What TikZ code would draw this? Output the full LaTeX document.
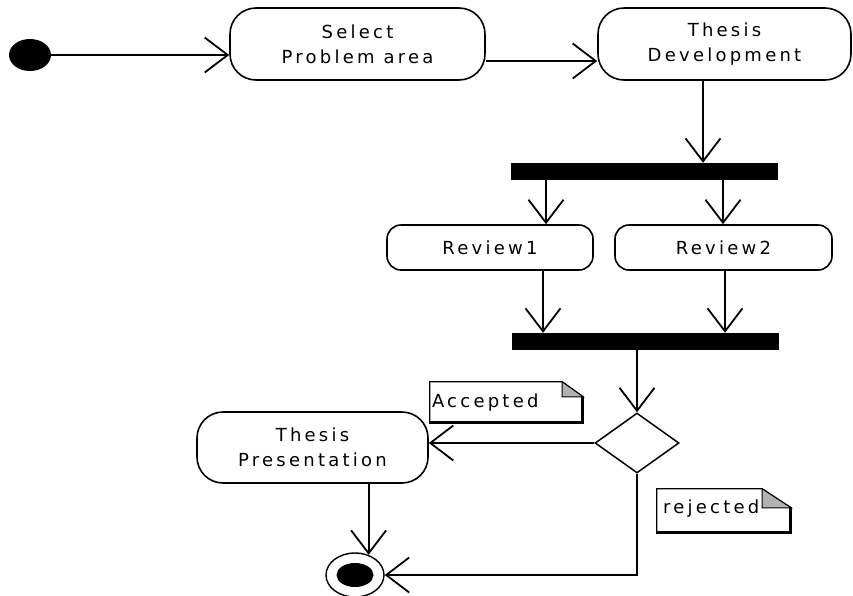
\documentclass[tikz,border=0pt]{standalone}
\usepackage{fontspec}
\setmainfont{DejaVu Sans}[LetterSpace=18]
\usetikzlibrary{arrows.meta,shapes.geometric,calc}

\begin{document}
\begin{tikzpicture}[x=1pt,y=-1pt,
  every node/.style={font=\fontsize{18}{25}\selectfont},
  act/.style={draw, line width=1.6pt, rectangle, rounded corners=26pt,
              align=center, inner sep=0pt},
  rev/.style={act, rounded corners=14pt},
  bar/.style={fill=black, draw=none, rectangle, inner sep=0pt,
              minimum width=267pt, minimum height=17pt},
  arr/.style={line width=1.8pt,
              -{Straight Barb[length=23pt,width=35pt,line width=1.8pt]}},
  notebox/.style={draw=none, rectangle, inner sep=0pt},
  notetxt/.style={anchor=west, inner sep=0pt},
  fold/.style={fill=black!30, draw=black, line width=1pt},
  ]
\useasboundingbox (0,0) rectangle (853,595);

% initial and final states
\node[ellipse, fill=black, inner sep=0pt, minimum width=42pt, minimum height=32pt] (init) at (30,55) {};
\node[ellipse, draw, fill=white, line width=1.4pt, inner sep=0pt,
      minimum width=58pt, minimum height=44pt] (fin) at (355,575) {};
\node[ellipse, fill=black, inner sep=0pt, minimum width=37pt, minimum height=24pt] (fincore) at (fin) {};

% activities
\node[act, minimum width=255pt, minimum height=72pt] (sel) at (357.5,44) {Select\\Problem area};
\node[act, minimum width=253pt, minimum height=72pt] (td) at (724.5,44) {Thesis\\Development};
\node[rev, minimum width=206pt, minimum height=45pt] (rev1) at (490,247.5) {Review1};
\node[rev, minimum width=217pt, minimum height=45pt] (rev2) at (723.5,247.5) {Review2};
\node[act, minimum width=231pt, minimum height=71pt] (tp) at (312.5,447.5) {Thesis\\Presentation};

% fork / join bars
\node[bar] (bar1) at (644.5,171.5) {};
\node[bar] (bar2) at (645.5,341.5) {};

% decision
\node[diamond, draw, line width=1.5pt, inner sep=0pt, minimum width=84pt, minimum height=60pt] (dec) at (637,443) {};

% notes
\node[notebox, minimum width=153pt, minimum height=41pt] (acc) at (506.5,402.5) {};
\node[notetxt] (acctxt) at ([xshift=2pt]acc.west) {Accepted};
\node[notebox, minimum width=134pt, minimum height=44pt] (rej) at (724,511) {};
\node[notetxt] (rejtxt) at ([xshift=6pt,yshift=2pt]rej.west) {rejected};

\foreach \n/\fx/\fy in {acc/21pt/15pt, rej/29pt/19pt} {
  \draw[line width=1.2pt] (\n.north west) -- ([xshift=-\fx]\n.north east)
        -- ([yshift=-\fy]\n.north east) -- (\n.south east) -- (\n.south west) -- cycle;
  \draw[line width=3pt] ([xshift=-1pt,yshift=-\fy]\n.north east)
        -- ([xshift=-1pt,yshift=1pt]\n.south east) -- ([yshift=1pt]\n.south west);
  \filldraw[fold] ([xshift=-\fx]\n.north east) -- ([xshift=-\fx,yshift=-\fy]\n.north east)
        -- ([yshift=-\fy]\n.north east) -- cycle;
}

% connection points
\coordinate (selout) at ($(sel.east)+(0,17)$);
\coordinate (tdout) at ($(td.south)+(-21.5,0)$);
\coordinate (r1in) at ($(rev1.north)+(56,0)$);
\coordinate (r2in) at ($(rev2.north)+(-0.5,0)$);
\coordinate (r1out) at ($(rev1.south)+(53,0)$);
\coordinate (r2out) at ($(rev2.south)+(1.5,0)$);

% flows
\draw[arr] (init.east) -- (init.east -| sel.west);
\draw[arr] (selout) -- (selout -| td.west);
\draw[arr] (tdout) -- (tdout |- bar1.north);
\draw[arr] (r1in |- bar1.south) -- (r1in);
\draw[arr] (r2in |- bar1.south) -- (r2in);
\draw[arr] (r1out) -- (r1out |- bar2.north);
\draw[arr] (r2out) -- (r2out |- bar2.north);
\draw[arr] (dec.north |- bar2.south) -- (dec.north);
\draw[arr] (dec.west) -- (dec.west -| tp.east);
\draw[arr] (fin.56 |- tp.south) -- (fin.56);
\draw[arr] (dec.south) |- (fin.east);
\end{tikzpicture}
\end{document}
